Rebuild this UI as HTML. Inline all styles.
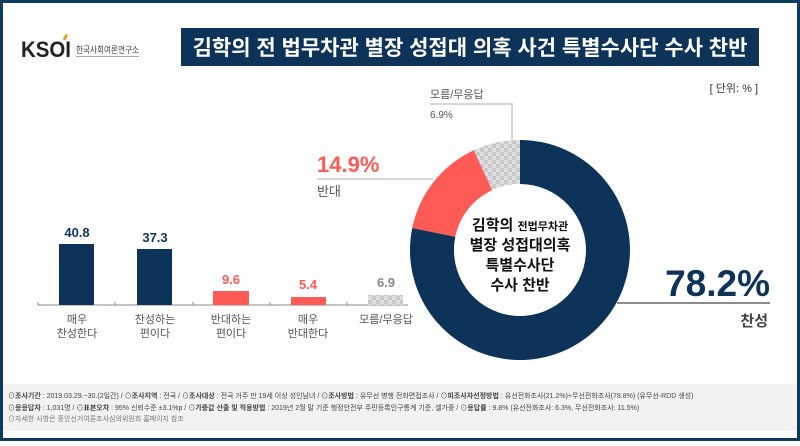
<!DOCTYPE html>
<html><head><meta charset="utf-8"><style>
body{margin:0;width:800px;height:441px;overflow:hidden;background:#fff;font-family:"Liberation Sans","Noto Sans CJK KR",sans-serif}
</style></head><body>
<svg width="800" height="441" xmlns="http://www.w3.org/2000/svg" font-family="Liberation Sans, Noto Sans CJK KR, sans-serif">
<defs><pattern id="chk" width="8" height="8" patternUnits="userSpaceOnUse"><rect width="8" height="8" fill="#c8c8c8"/><rect width="4" height="4" fill="#dedede"/><rect x="4" y="4" width="4" height="4" fill="#dedede"/></pattern></defs>
<rect x="1.5" y="1.5" width="797" height="438" fill="#fff" stroke="#0f3a60" stroke-width="3"/>
<text x="21" y="57" font-size="22" font-weight="bold" fill="#222" textLength="50" lengthAdjust="spacingAndGlyphs">KSOI</text>
<rect x="64" y="34" width="3" height="6" fill="#f0a020" transform="rotate(30 65 37)"/>
<text x="76" y="53" font-size="9" fill="#444" textLength="63" lengthAdjust="spacingAndGlyphs">한국사회여론연구소</text>
<rect x="76" y="56" width="63" height="1" fill="#aaa"/>
<rect x="181" y="28" width="578" height="38" fill="#0e3359"/>
<text x="470" y="55" font-size="21" font-weight="bold" fill="#fff" text-anchor="middle">김학의 전 법무차관 별장 성접대 의혹 사건 특별수사단 수사 찬반</text>
<text x="758" y="92" font-size="11" fill="#333" text-anchor="end">[ 단위: % ]</text>
<line x1="38" y1="305" x2="408" y2="305" stroke="#888"/>
<g stroke="#888"><line x1="38" y1="302" x2="38" y2="305"/><line x1="115" y1="302" x2="115" y2="305"/><line x1="193" y1="302" x2="193" y2="305"/><line x1="270" y1="302" x2="270" y2="305"/><line x1="347" y1="302" x2="347" y2="305"/></g>
<rect x="59" y="244" width="35" height="61" fill="#0e3359"/>
<rect x="137" y="249" width="35" height="56" fill="#0e3359"/>
<rect x="213" y="291" width="36" height="14" fill="#ff5a55"/>
<rect x="291" y="297" width="35" height="8" fill="#ff5a55"/>
<rect x="368" y="295" width="35" height="10" fill="url(#chk)"/>
<g font-size="13" font-weight="bold" text-anchor="middle">
<text x="77" y="237" fill="#0e3359">40.8</text>
<text x="155" y="242" fill="#0e3359">37.3</text>
<text x="231" y="284" fill="#ff5a55">9.6</text>
<text x="308" y="289" fill="#ff5a55">5.4</text>
<text x="386" y="287" fill="#888">6.9</text>
</g>
<g font-size="11" fill="#555" text-anchor="middle">
<text x="77" y="323">매우</text><text x="77" y="337">찬성한다</text>
<text x="155" y="323">찬성하는</text><text x="155" y="337">편이다</text>
<text x="231" y="323">반대하는</text><text x="231" y="337">편이다</text>
<text x="308" y="323">매우</text><text x="308" y="337">반대한다</text>
<text x="386" y="323">모름/무응답</text>
</g>
<path d="M520 140 A110 110 0 1 1 412.2 228 L455.3 236.8 A66 66 0 1 0 520 184 Z" fill="#0e3359"/>
<path d="M412.2 228 A110 110 0 0 1 473.8 150.2 L492.3 190.1 A66 66 0 0 0 455.3 236.8 Z" fill="#ff5a55"/>
<path d="M473.8 150.2 A110 110 0 0 1 520 140 L520 184 A66 66 0 0 0 492.3 190.1 Z" fill="url(#chk)"/>
<g font-size="15" font-weight="bold" fill="#111" text-anchor="middle">
<text x="520" y="230">김학의 <tspan font-size="11">전법무차관</tspan></text>
<text x="520" y="250">별장 성접대의혹</text>
<text x="520" y="270">특별수사단</text>
<text x="520" y="290">수사 찬반</text>
</g>
<polyline points="430,104 512,104 512,140" fill="none" stroke="#ccc" stroke-width="1.5"/>
<text x="430" y="98" font-size="11" fill="#555">모름/무응답</text>
<text x="430" y="118" font-size="10" fill="#555">6.9%</text>
<line x1="317" y1="179" x2="433" y2="179" stroke="#ccc" stroke-width="1.5"/>
<text x="317" y="172" font-size="22" font-weight="bold" fill="#ff5a55">14.9%</text>
<text x="317" y="196" font-size="13" fill="#555">반대</text>
<line x1="617" y1="303" x2="770" y2="303" stroke="#666" stroke-width="1.5"/>
<text x="770" y="296" font-size="37" font-weight="bold" fill="#0e3359" text-anchor="end">78.2%</text>
<text x="768" y="326" font-size="15" font-weight="bold" fill="#444" text-anchor="end">찬성</text>
<rect x="3" y="384" width="794" height="47" fill="#f2f2f2"/>
<g font-size="7" fill="#444">
<text x="8" y="398">⊙<tspan font-weight="bold">조사기간</tspan> : 2019.03.29.~30.(2일간) / ⊙<tspan font-weight="bold">조사지역</tspan> : 전국 / ⊙<tspan font-weight="bold">조사대상</tspan> : 전국 거주 만 19세 이상 성인남녀 / ⊙<tspan font-weight="bold">조사방법</tspan> : 유무선 병행 전화면접조사 / ⊙<tspan font-weight="bold">피조사자선정방법</tspan> : 유선전화조사(21.2%)+무선전화조사(78.8%) (유무선-RDD 생성)</text>
<text x="8" y="410">⊙<tspan font-weight="bold">응응답자</tspan> : 1,031명 / ⊙<tspan font-weight="bold">표본오차</tspan> : 95% 신뢰수준 ±3.1%p / ⊙<tspan font-weight="bold">가중값 산출 및 적용방법</tspan> : 2019년 2월 말 기준 행정안전부 주민등록인구통계 기준, 셀가중 / ⊙<tspan font-weight="bold">응답률</tspan> : 9.8% (유선전화조사: 6.3%, 무선전화조사: 11.5%)</text>
<text x="8" y="421" fill="#777">⊙자세한 사항은 중앙선거여론조사심의위원회 홈페이지 참조</text>
</g>
</svg>
</body></html>
